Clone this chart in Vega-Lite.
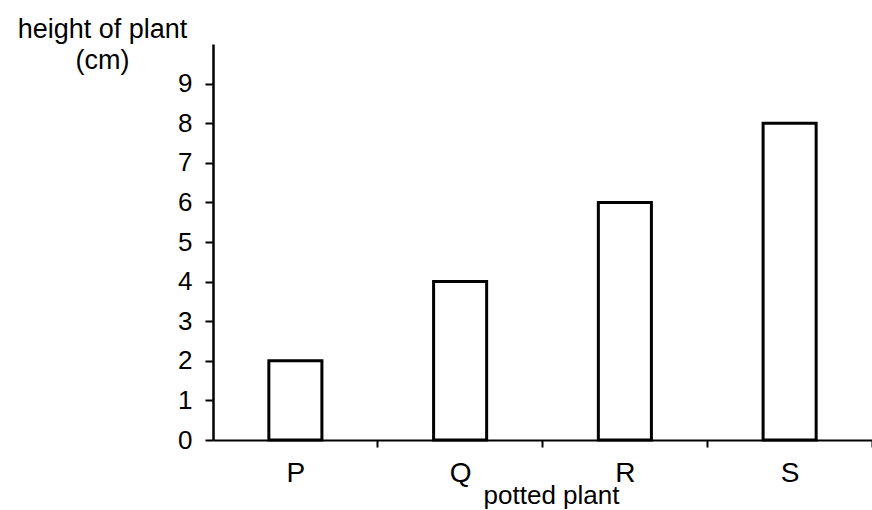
{
  "$schema": "https://vega.github.io/schema/vega-lite/v6.json",
  "width": 659,
  "height": 396,
  "autosize": {"type": "none"},
  "padding": {"left": 213, "top": 44, "right": 0, "bottom": 70},
  "background": "white",
  "config": {"view": {"stroke": null}, "font": "Liberation Sans"},
  "data": {"values": [
    {"plant": "P", "height": 2},
    {"plant": "Q", "height": 4},
    {"plant": "R", "height": 6},
    {"plant": "S", "height": 8}
  ]},
  "mark": {"type": "bar", "fill": "white", "stroke": "black", "strokeWidth": 3},
  "encoding": {
    "x": {
      "field": "plant", "type": "nominal", "sort": null,
      "scale": {"paddingInner": 0.678, "paddingOuter": 0.339},
      "axis": {
        "title": "potted plant",
        "labelAngle": 0, "labelFontSize": 28, "labelColor": "black", "labelPadding": 12,
        "labelOffset": -82,
        "tickSize": 7, "tickColor": "black", "tickWidth": 2, "tickOffset": 82,
        "domainColor": "black", "domainWidth": 2,
        "titleFontSize": 26, "titleFontWeight": "normal", "titleColor": "black",
        "titleX": 338, "titleY": 63, "titleBaseline": "alphabetic", "titleAlign": "center"
      }
    },
    "y": {
      "field": "height", "type": "quantitative",
      "scale": {"domain": [0, 10], "nice": false},
      "axis": {
        "values": [0, 1, 2, 3, 4, 5, 6, 7, 8, 9],
        "title": ["height of plant", "(cm)"],
        "titleAngle": 0, "titleX": -111, "titleY": -28, "titleBaseline": "top", "titleAlign": "center",
        "titleLineHeight": 31, "titleFontSize": 27, "titleFontWeight": "normal", "titleColor": "black",
        "grid": false,
        "labelFontSize": 26, "labelColor": "black", "labelPadding": 13,
        "tickSize": 8, "tickColor": "black", "tickWidth": 2,
        "domainColor": "black", "domainWidth": 2.5
      }
    }
  }
}
